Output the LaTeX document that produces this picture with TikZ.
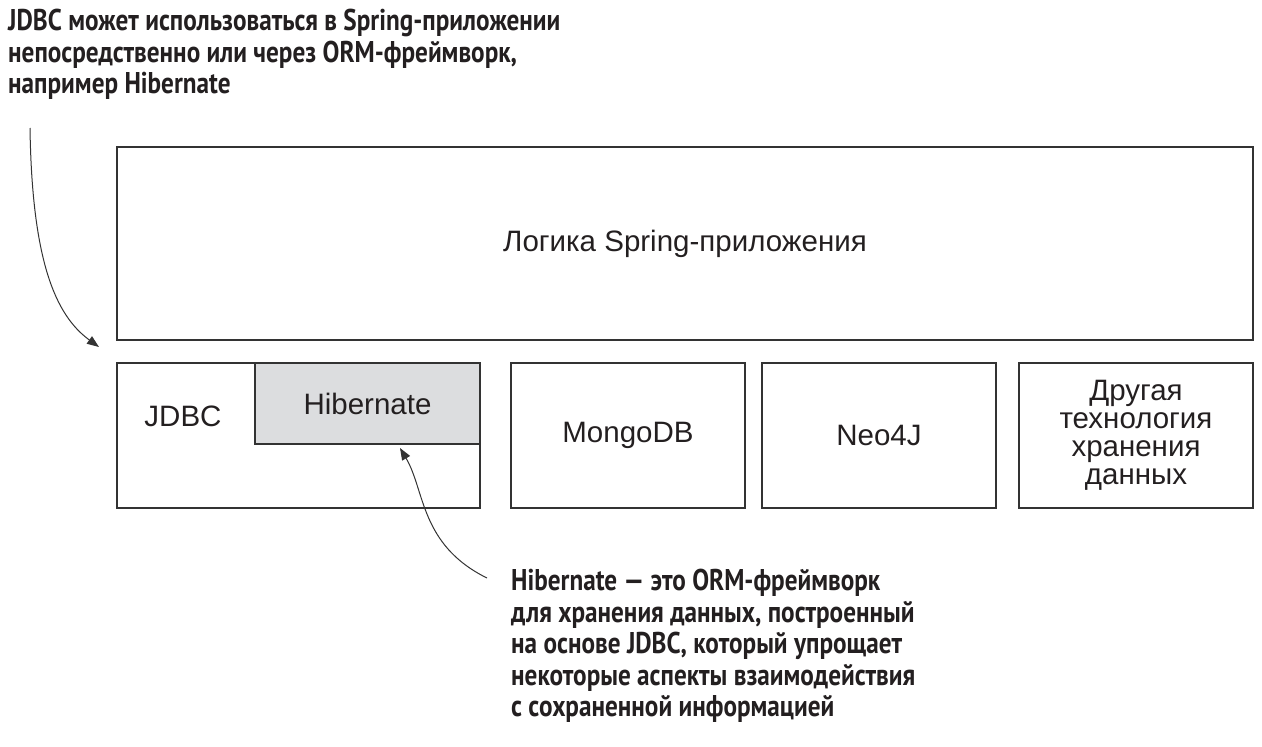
\documentclass[tikz,border=0pt]{standalone}
\usepackage{fontspec}
\setmainfont{Liberation Sans}
\newfontfamily\notefont[FakeStretch=0.84]{PT Sans}
\usetikzlibrary{arrows.meta,positioning}
\definecolor{boxline}{HTML}{333333}
\definecolor{hibgrey}{HTML}{DCDDDF}
\definecolor{inktext}{HTML}{231F20}
\tikzset{storebox/.style={draw=boxline,line width=2pt,rectangle,inner sep=0,minimum width=234pt,minimum height=145pt,
                          align=center,text=inktext,font=\fontsize{29.5}{28}\selectfont},
    greybox/.style={storebox,fill=hibgrey,minimum width=225pt,minimum height=81pt},
    plainlabel/.style={inner sep=0,text=inktext,font=\fontsize{29.5}{28}\selectfont},
    notetext/.style={align=left,inner sep=0,text=inktext,font=\notefont\bfseries\fontsize{30}{31.5}\selectfont},
    curvy/.style={draw=boxline,line width=1pt,-{Triangle[length=12pt,width=9pt]}}}

\begin{document}
\begin{tikzpicture}[x=1pt,y=-1pt]

\useasboundingbox (0,0) rectangle (1262,747);

\node (app) [storebox,minimum width=1136pt,minimum height=193pt] at (685,243.5) {Логика Spring-приложения};

\node (jdbc) [storebox,minimum width=363pt] at (298.5,435.5) {};
\node (hib) [greybox] at (367.5,403.5) {\raisebox{-3pt}{Hibernate}};
\node (jdbclabel) [plainlabel] at (183,416) {JDBC};

\foreach \storename/\storex/\storetext in {mongo/628/MongoDB, neo/879/Neo4J, other/1136/{Другая\\технология\\хранения\\данных}}
{
    \node (\storename) [storebox] at (\storex,435.5) {\storetext};
}

\node (topnote) [notetext,anchor=north west] at (8,9) {JDBC может использоваться в Spring-приложении\\непосредственно или через ORM-фреймворк,\\например Hibernate};
\node (hibnote) [notetext,anchor=north west] at (511,569) {Hibernate — это ORM-фреймворк\\для хранения данных, построенный\\на основе JDBC, который упрощает\\некоторые аспекты взаимодействия\\с сохраненной информацией};

% annotation arrows
\coordinate (topnotetail) at (30,128);
\coordinate (jdbctip) at ([xshift=-17pt,yshift=15pt]jdbc.north west);
\draw [curvy] (topnotetail) .. controls (32,260) and (55,315) .. (jdbctip);

\coordinate (hibnotetail) at ([xshift=-24pt,yshift=-9pt]hibnote.north west);
\coordinate (hibtip) at ([xshift=32.5pt,yshift=-3pt]hib.south);
\draw [curvy] (hibnotetail) .. controls (420,545) and (425,490) .. (hibtip);

\end{tikzpicture}
\end{document}
